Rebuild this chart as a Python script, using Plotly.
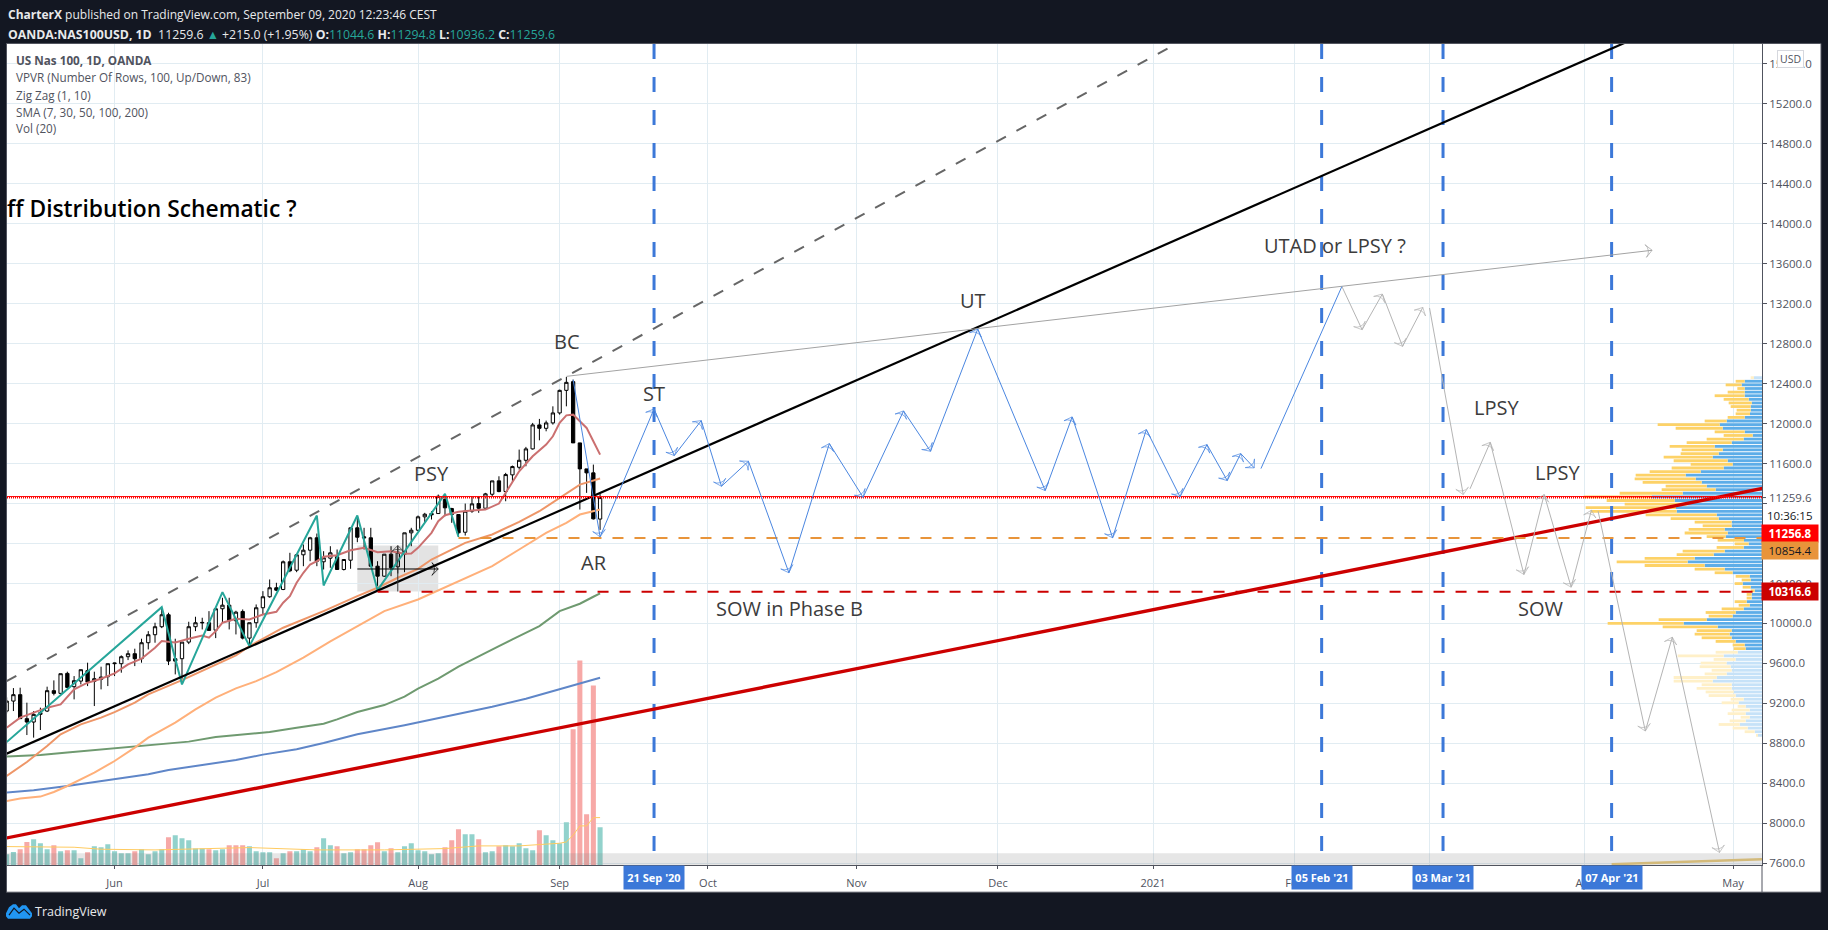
import plotly.graph_objects as go

W, H = 1828, 930
FONT = "Open Sans"
Y_FIX = 1.0045

# sessions counted from 2020-06-01 = 0
sessions = list(range(-16, 73))
tick_sessions = [0, 22, 45, 66, 88, 110, 131, 154, 175, 195, 218, 240]
tick_months = ["Jun", "Jul", "Aug", "Sep", "Oct", "Nov", "Dec", "2021", "Feb", "Mar", "Apr", "May"]

opens = [9123,9223,9287,9047,9013,9090,9123,9327,9300,9500,9367,9423,9527,9420,9440,9467,
         9597,9597,9667,9697,9647,9807,9887,9967,10087,9647,9647,9813,9967,10005,10007,9933,10147,10183,10027,10120,9853,10007,10157,10267,10357,10340,10617,10533,10687,10733,10857,
         10617,10653,10667,10540,10633,10957,10867,10857,10573,10473,10693,10567,10693,10907,10933,11067,11100,11100,11240,11150,11090,10913,11123,11200,11153,11293,11427,11320,11487,11563,11633,11747,11987,11953,12007,12107,12333,12420,11807,11547,11507,11044.6]
highs = [9260,9353,9357,9207,9123,9157,9367,9430,9497,9517,9473,9537,9607,9517,9567,9597,
         9607,9680,9730,9747,9847,9923,10007,10157,10107,9847,9813,10017,10067,10057,10123,10157,10257,10257,10127,10140,10007,10190,10323,10440,10407,10630,10707,10687,10790,10867,10900,
         10723,10773,10740,10640,10957,11073,10957,10957,10623,10693,10773,10773,10907,10957,11080,11107,11123,11290,11290,11157,11090,11200,11273,11273,11307,11427,11473,11507,11580,11740,11767,12007,12047,12030,12173,12340,12467,12440,11807,11547,11590,11294.8]
lows = [9100,9123,9047,8883,8857,8933,9113,9280,9300,9353,9240,9390,9373,9173,9340,9373,
        9473,9507,9633,9573,9607,9740,9807,9953,9583,9490,9407,9793,9923,9940,9930,9853,10007,9940,9890,9840,9757,9957,10090,10257,10323,10333,10513,10513,10573,10623,10573,
        10540,10557,10540,10530,10547,10813,10740,10567,10373,10467,10473,10500,10513,10773,10923,11007,11040,11100,11073,11007,10867,10880,11107,11107,11153,11273,11313,11223,11413,11540,11573,11740,11833,11923,11990,12090,12173,11807,11140,11307,11040,10936.2]
closes = [9223,9287,9047,9013,9090,9107,9327,9300,9497,9360,9427,9537,9413,9447,9463,9597,
          9603,9667,9697,9647,9807,9887,9967,10087,9623,9623,9813,9967,10007,10010,9930,10147,10183,10027,10113,9853,10007,10157,10267,10357,10333,10617,10527,10687,10733,10857,10623,
          10657,10707,10540,10640,10957,10863,10857,10573,10473,10693,10557,10713,10907,10933,11067,11093,11087,11273,11157,11090,10907,11123,11197,11153,11297,11427,11320,11490,11570,11633,11747,11987,11953,12007,12107,12333,12413,11807,11547,11507,11047,11259.6]

sma7_s = [-16,-14,-12,-10,-8,-6,-4,-2,0,2,4,6,7,8,9,11,13,14,15,16,18,20,22,24,25,26,27,28,29,30,31,33,35,37,39,41,43,44,45,47,48,49,51,53,55,57,58,59,60,62,64,65,66,67,68,69,70,71,72]
sma7_v = [8957,9057,9107,9157,9190,9340,9407,9447,9500,9590,9647,9757,9823,9817,9810,9847,9880,9857,9923,10007,10047,10040,10090,10117,10207,10273,10407,10507,10590,10623,10667,10683,10733,10757,10713,10723,10697,10700,10757,10907,11023,11083,11117,11130,11140,11200,11307,11407,11523,11673,11790,11873,12007,12083,12090,12023,11957,11823,11690]
sma30_s = [-16,-13,-10,-8,-5,-2,0,3,5,8,10,18,20,25,31,36,39,42,45,47,50,52,56,60,63,66,69,72]
sma30_v = [8473,8613,8773,8890,8990,9057,9113,9207,9290,9373,9433,9680,9773,9957,10123,10273,10357,10457,10547,10640,10740,10807,10890,11017,11123,11257,11390,11450]
sma50_s = [-16,-14,-11,-9,-7,-3,0,3,5,9,12,15,18,21,24,28,32,36,40,45,50,56,60,64,67,69,72]
sma50_v = [8223,8247,8267,8313,8373,8507,8623,8757,8857,9007,9140,9257,9350,9423,9513,9657,9820,9973,10123,10240,10390,10573,10740,10907,11007,11090,11140]
sma100_s = [-16,-11,-7,0,6,11,15,18,23,27,31,33,36,40,43,45,48,51,54,57,59,63,66,69,71,72]
sma100_v = [8667,8683,8707,8750,8790,8817,8863,8883,8913,8957,8997,9040,9113,9183,9267,9347,9447,9567,9673,9773,9840,9973,10123,10197,10267,10300]
sma200_s = [-16,-12,-7,0,5,8,13,18,22,27,31,36,43,46,51,56,61,66,70,72]
sma200_v = [8307,8330,8373,8440,8490,8533,8583,8633,8687,8740,8803,8890,8980,9023,9100,9167,9247,9340,9413,9457]

zigzag_s = [-16,7,10,16,20,30,31,36,39,49,51]
zigzag_v = [8813,10163,9390,10313,9773,11080,10380,11080,10333,11297,10867]

blue_s1 = [68,72,80,83,87,90,94,100,106,111,117,121,128,138,142,148,153,158,162,165,167,169]
blue_v1 = [12440,10867,12147,11680,12030,11373,11623,10507,11800,11263,12127,11723,12947,11330,12067,10857,11940,11267,11790,11430,11700,11557]
blue_s2 = [170,182]
blue_v2 = [11550,13373]
gray_s1 = [182,185,188,191,194]
gray_v1 = [13373,12940,13297,12773,13163]
gray_s2 = [195,200]
gray_v2 = [13157,11290]
gray_s3 = [201,204,209,212,216,219]
gray_v3 = [11347,11813,10490,11290,10363,11133]
gray_s4 = [220,227,231,238]
gray_v4 = [11123,8923,9863,7707]

event_sessions = [80, 179, 197, 222]
event_labels = ["21 Sep '20", "05 Feb '21", "03 Mar '21", "07 Apr '21"]

black_s, black_v = [-16, 224], [8697, 15813]
dash_s, dash_v = [-16, 158], [9422, 15822]
red_s, red_v = [-16, 245], [7853, 11360]
thin_s, thin_v = [67, 228], [12473, 13735]

last_line = 11270
last_price = 11256.8
orange_level, orange_start = 10854.4, 51
red_level, red_start = 10316.6, 39
box_s, box_v = [36, 48], [10320, 10780]
arrow_h_s, arrow_h_v = [36, 48], [10545, 10545]
arrow_v_s, arrow_v_v = [42, 42], [10320, 10780]

vol = [33,40,48,70,78,66,48,60,42,45,45,21,39,57,54,63,
       42,36,36,42,48,33,42,48,84,90,81,75,50,50,48,45,48,60,60,60,57,42,39,39,21,36,42,42,48,42,54,
       81,60,57,36,39,48,48,60,69,42,51,39,57,66,45,42,33,36,54,75,108,93,93,78,39,42,57,60,57,66,51,45,105,90,75,66,129,408,615,153,540,114]
vol_dir = list("uudduuududuuduuu" "uuuduuuuduuuuuduuddduuuududuuud"
               "uuduudddd" "ud" "uuuuuuu" "ddd" "uu" "d" "uu" "d" "uuuuu" "d" "uuuu" "dddd" "u")
volma_s = [-16,-6,-2,6,10,20,30,40,49,54,60,66,67,68,69,70,71,72]
volma_v = [56,54,48,46,48,53,46,46,50,58,58,66,70,90,118,118,143,143]

vp_price = [12460 - i * 36.16 for i in range(100)]
vp_up = [24,52,61,52,52,52,40,31,34,34,36,52,106,127,118,52,28,55,91,142,118,130,148,103,88,115,184,229,199,181,
         166,139,238,331,262,224,258,256,136,130,91,91,112,103,109,54,40,55,112,145,202,223,172,112,88,37,34,58,34,22,31,31,
         46,37,55,79,88,166,235,133,91,97,91,79,52,49,73,115,79,106,94,91,106,136,148,91,91,85,79,55,70,49,37,49,37,49,67,43,22,13]
vp_down = [10,27,48,22,51,90,75,69,60,42,43,51,66,186,141,90,87,111,135,135,123,114,147,162,126,156,153,150,183,177,
           123,162,189,204,204,188,271,258,213,144,111,87,108,129,57,79,42,81,126,111,150,213,180,90,54,42,27,24,24,12,15,15,
           36,33,66,90,72,144,228,165,105,105,90,60,36,36,66,138,66,78,93,60,66,129,117,90,105,84,81,39,51,24,54,54,27,48,63,45,30,3]
vp_faded = [0] + list(range(76, 100))

X_MIN, X_MAX = -15.95, 244.3
Y_MIN, Y_MAX = 7580, 15800
ticks_y = list(range(7600, 15601, 400))
ticks_y_text = ["" if v in (11200, 10800) else f"{v:.1f}" for v in ticks_y]

PX_PER_BAR = (1762 - 7) / (X_MAX - X_MIN)
VOL_SCALE = 10 / 3          # height unit -> price
VP_SCALE = 1 / 3 / PX_PER_BAR  # width unit -> sessions

fig = go.Figure()

# bars sit beneath candles and lines
fig.add_bar(x=sessions, y=[v * VOL_SCALE for v in vol], base=Y_MIN, width=0.75,
            marker=dict(color=["#92d2cc" if d == "u" else "#f7a9a7" for d in vol_dir], line_width=0))
up_w = [v * VP_SCALE for v in vp_up]
dn_w = [v * VP_SCALE for v in vp_down]
fig.add_bar(y=vp_price, x=up_w, base=[X_MAX - w for w in up_w], orientation="h", width=28,
            marker=dict(color=["#c6e2f8" if i in vp_faded else "#5dade8" for i in range(100)], line_width=0))
fig.add_bar(y=vp_price, x=dn_w, base=[X_MAX - a - b for a, b in zip(up_w, dn_w)], orientation="h", width=28,
            marker=dict(color=["#fff0c8" if i in vp_faded else "#fdd267" for i in range(100)], line_width=0))

fig.add_candlestick(x=sessions, open=opens, high=highs, low=lows, close=closes, whiskerwidth=0,
                    increasing=dict(line=dict(color="#000000", width=1), fillcolor="#ffffff"),
                    decreasing=dict(line=dict(color="#000000", width=1), fillcolor="#000000"))

def line(x, y, color, width=1, dash=None):
    fig.add_scatter(x=x, y=y, mode="lines", line=dict(color=color, width=width, dash=dash), connectgaps=True)

def arrows(x, y, color, width=1, size=9):
    fig.add_scatter(x=x, y=y, mode="lines+markers", line=dict(color=color, width=width),
                    marker=dict(symbol="arrow-wide-open", angleref="previous", size=[0] + [size] * (len(x) - 1),
                                color=color, line=dict(color=color, width=width)))

line(sma200_s, sma200_v, "#5f86c8", 2)
line(sma100_s, sma100_v, "#6f9a70", 2)
line(sma50_s, sma50_v, "#ffb07a", 2)
line(sma30_s, sma30_v, "#ee9668", 2)
line(sma7_s, sma7_v, "#cb7070", 2)
line(zigzag_s, zigzag_v, "#26a69a", 2)
line(volma_s, [Y_MIN + v * VOL_SCALE for v in volma_v], "#ffcb60", 1)

for s in event_sessions:
    line([s, s], [Y_MAX, 7600], "#3c78d8", 3, "15px,18px")

line(dash_s, dash_v, "#666666", 2, "11px,12px")
line(black_s, black_v, "#000000", 2.2)
line(red_s, red_v, "#cc0000", 3.4)
arrows(thin_s, thin_v, "#a3a3a3", 1)

line([X_MIN, X_MAX], [last_line, last_line], "#ff0000", 1)
line([X_MIN, X_MAX], [last_price, last_price], "#ff0000", 1.5, "1px,1px")
line([orange_start, X_MAX], [orange_level] * 2, "#e8943a", 2, "11px,11px")
line([red_start, X_MAX], [red_level] * 2, "#cc0000", 2, "11px,11px")

arrows(arrow_h_s, arrow_h_v, "#000000", 1)
arrows(arrow_v_s, arrow_v_v, "#333333", 1)
arrows(blue_s1, blue_v1, "#4a86e0", 1)
arrows(blue_s2, blue_v2, "#4a86e0", 1, 0.1)
arrows(gray_s1, gray_v1, "#b4b4b4", 1)
arrows(gray_s2, gray_v2, "#b4b4b4", 1)
arrows(gray_s3, gray_v3, "#b4b4b4", 1)
arrows(gray_s4, gray_v4, "#b4b4b4", 1)

line([222, 244.3], [7590, 7640], "#e8c878", 2.5)


def px(x):
    return x / W

def py(y):
    return 1 - y * Y_FIX / H

def note(text, x, y, size=18, color="#3f3f3f", anchor="center", weight=None, **kw):
    fig.add_annotation(text=text, xref="paper", yref="paper", x=px(x), y=py(y), showarrow=False,
                       xanchor=anchor, yanchor="middle", font=dict(family=FONT, size=size, color=color, weight=weight),
                       borderpad=0, **kw)

shapes = [
    dict(type="rect", xref="paper", yref="paper", x0=px(6.5), x1=px(1821), y0=py(893), y1=py(43.5),
         fillcolor="#ffffff", line=dict(color="#50535e", width=1), layer="below"),
    dict(type="rect", xref="x", yref="y", x0=box_s[0], x1=box_s[1], y0=box_v[0], y1=box_v[1],
         fillcolor="rgba(128,128,128,0.22)", line_width=0, layer="below"),
    dict(type="rect", xref="paper", yref="y", x0=px(7), x1=px(1762), y0=Y_MIN, y1=7700,
         fillcolor="rgba(128,128,128,0.2)", line_width=0, layer="above"),
    dict(type="line", xref="paper", yref="paper", x0=px(1762), x1=px(1762), y0=py(893), y1=py(866),
         line=dict(color="#50535e", width=1)),
]
# small logo
logo = [(6,914),(9,908),(13,905),(16,905),(19,909),(22,906),(26,906),(29,910),(32,914),(32,917),(30,919.5),(8,919.5),(6,917)]
shapes.append(dict(type="path", xref="paper", yref="paper",
                   path="M " + " L ".join(f"{px(a):.5f},{py(b):.5f}" for a, b in logo) + " Z",
                   fillcolor="#2196f3", line_width=0))
wave = [(9,916),(14,909),(19,914),(24,910),(30,916)]
shapes.append(dict(type="path", xref="paper", yref="paper",
                   path="M " + " L ".join(f"{px(a):.5f},{py(b):.5f}" for a, b in wave),
                   line=dict(color="#131722", width=1.2)))
for y in (498, 533, 550, 592):
    shapes.append(dict(type="line", xref="paper", yref="paper", x0=px(1762), x1=px(1766), y0=py(y), y1=py(y),
                       line=dict(color="#50535e", width=1)))

# header
GREEN = "#26a69a"
note("<b>CharterX</b> published on TradingView.com, September 09, 2020 12:23:46 CEST", 7, 15, 12, "#e8e9eb", "left")
note(f"<b>OANDA:NAS100USD, 1D</b>  11259.6 <span style='color:{GREEN}'>▲</span> +215.0 (+1.95%) "
     f"<b>O:</b><span style='color:{GREEN}'>11044.6</span> <b>H:</b><span style='color:{GREEN}'>11294.8</span> "
     f"<b>L:</b><span style='color:{GREEN}'>10936.2</span> <b>C:</b><span style='color:{GREEN}'>11259.6</span>",
     7, 35, 12.3, "#e8e9eb", "left")
# study legend
for txt, y in [("<b>US Nas 100, 1D, OANDA</b>", 60.5), ("VPVR (Number Of Rows, 100, Up/Down, 83)", 77.5),
               ("Zig Zag (1, 10)", 95), ("SMA (7, 30, 50, 100, 200)", 112), ("Vol (20)", 128.5)]:
    note(txt, 15, y, 11.7, "#50535e", "left")
note("ff Distribution Schematic ?", 6, 208.5, 22.8, "#000000", "left", weight=600)

# chart labels
for txt, x, y in [("BC", 567, 342), ("PSY", 431, 474), ("ST", 654, 394), ("AR", 594, 563), ("UT", 973.5, 301),
                  ("SOW in Phase B", 789, 609), ("UTAD or LPSY ?", 1335, 246), ("LPSY", 1496, 408),
                  ("LPSY", 1557, 473), ("SOW", 1541, 609)]:
    note(txt, x, y, 20, "#3c3c3c")

# right scale tags
note("11259.6", 1790, 498, 11.5, "#50535e")
note("10:36:15", 1790, 516, 11.5, "#131722")
for txt, y, bg, fg in [("11256.8", 533.5, "#ff0000", "#ffffff"), ("10854.4", 550.5, "#e8943a", "#131722"),
                       ("10316.6", 592.3, "#cc0000", "#ffffff")]:
    note(f"<b>{txt}</b>" if fg == "#ffffff" else txt, 1789.5, y, 11.5, fg, bgcolor=bg, width=56, height=17)
note("USD", 1790, 59, 10.5, "#50535e", bgcolor="#ffffff", bordercolor="#d6d8de", borderwidth=1, width=25, height=16)

# event date tags
for s, lab in zip(event_sessions, event_labels):
    cx = 7 + (s - X_MIN) * PX_PER_BAR
    note(f"<b>{lab}</b>", cx, 878, 11, "#ffffff", bgcolor="#3c78d8", width=60, height=23)

note("TradingView", 34, 912.5, 12.5, "#e8e9eb", "left")

fig.update_layout(
    width=W, height=H, margin=dict(l=0, r=0, t=0, b=0), autosize=False,
    paper_bgcolor="#131722", plot_bgcolor="rgba(0,0,0,0)",
    showlegend=False, hovermode=False, barmode="overlay", shapes=shapes,
    xaxis=dict(domain=[px(7), px(1762)], range=[X_MIN, X_MAX], tickmode="array", tickvals=tick_sessions,
               ticktext=tick_months, rangeslider=dict(visible=False), showgrid=True, gridcolor="#e1ecf2", gridwidth=1,
               zeroline=False, showline=True, linecolor="#50535e", linewidth=1, ticks="outside", ticklen=3,
               tickcolor="#50535e", tickfont=dict(family=FONT, size=11, color="#50535e"), anchor="y",
               ticklabelstandoff=5),
    yaxis=dict(domain=[py(866), py(44)], range=[Y_MIN, Y_MAX], side="right", tickmode="array", tickvals=ticks_y,
               ticktext=ticks_y_text, showgrid=True, gridcolor="#e1ecf2", gridwidth=1, zeroline=False, showline=True,
               linecolor="#50535e", linewidth=1, ticks="outside", ticklen=4, tickcolor="#50535e",
               tickfont=dict(family=FONT, size=11.5, color="#50535e"), anchor="x"),
)

assert len(opens) == len(highs) == len(lows) == len(closes) == len(vol) == len(vol_dir) == len(sessions), (
    len(opens), len(highs), len(lows), len(closes), len(vol), len(vol_dir))
assert len(vp_up) == len(vp_down) == 100, (len(vp_up), len(vp_down))

fig.write_html("out.html", config=dict(displayModeBar=False),
               post_script="document.body.style.margin='0';document.documentElement.style.overflow='hidden';")
